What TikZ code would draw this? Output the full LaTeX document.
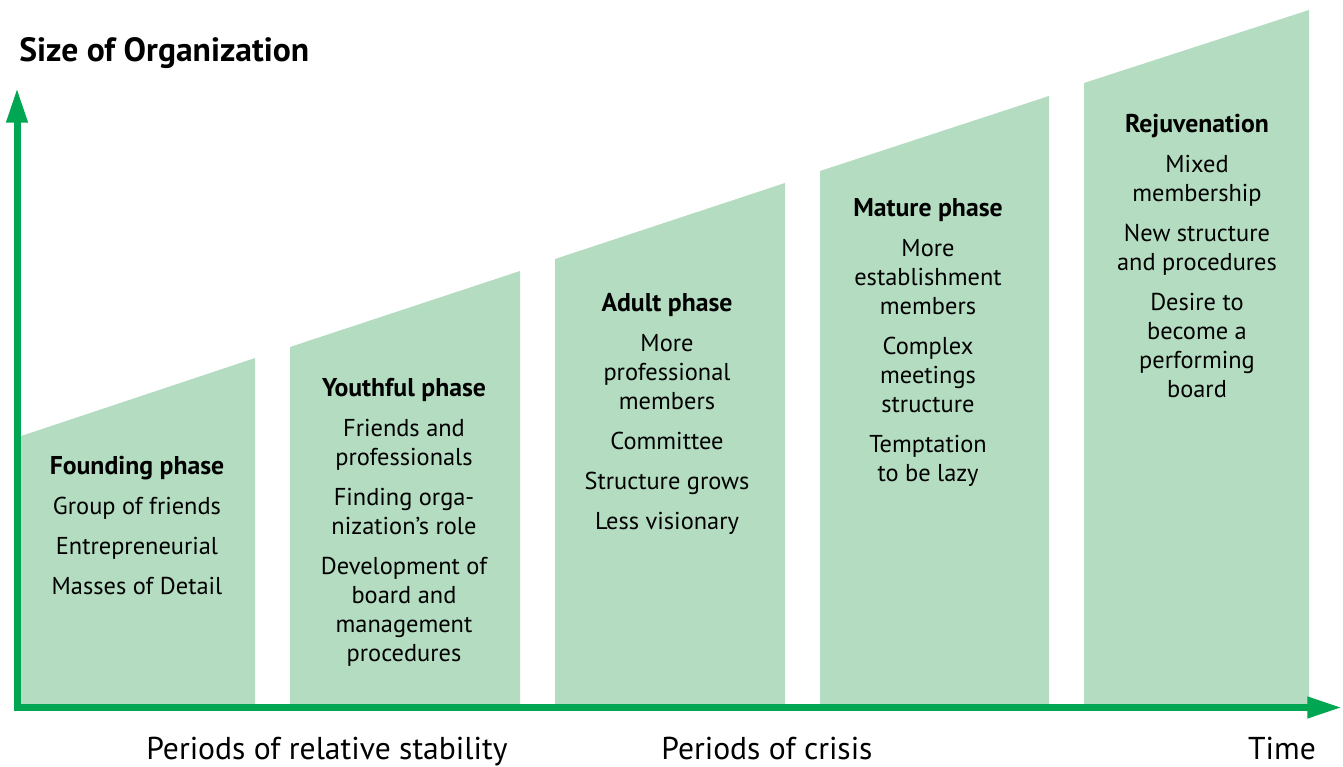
\documentclass[tikz,border=0pt]{standalone}
\usepackage{fontspec}
\setmainfont{PT Sans}
\usetikzlibrary{arrows.meta}

\definecolor{panelgreen}{HTML}{B3DCC1}
\definecolor{axisgreen}{HTML}{00A651}

\tikzset{
  phase/.style={fill=panelgreen, draw=none},
  phasetext/.style={align=center, anchor=north, inner sep=0pt,
    font=\fontsize{18.3}{21.75}\selectfont},
  axisline/.style={draw=axisgreen, line width=5.25pt,
    -{Triangle[length=26pt, width=15pt, fill=axisgreen]}},
  axislabel/.style={anchor=base, inner sep=0pt, font=\fontsize{23.7}{26}\selectfont}
}

\newcommand{\gap}{\\[8.25pt]}
\newcommand{\phasetitle}[1]{{\fontsize{19.3}{21.75}\selectfont\bfseries #1}}

\begin{document}
\begin{tikzpicture}[x=0.75pt, y=-0.75pt]
    \useasboundingbox (0,0) rectangle (1343,767);

    % phase panels: left x / right x / left top / right top
    \foreach \xa/\xb/\ya/\yb in {18/255/437/358, 290/520/347/271,
        555/785/259/183, 820/1049/171/96, 1084/1309/83/10}
        \fill[phase] (\xa,707) -- (\xa,\ya) -- (\xb,\yb) -- (\xb,707) -- cycle;

    % axes
    \coordinate (origin) at (17,707.5);
    \coordinate (ytip) at (17,88);
    \coordinate (xtip) at (1342,707.5);
    \coordinate (xstart) at (13.5,707.5);
    \draw[axisline] (xstart) -- (xtip);
    \draw[axisline] (17,711) -- (ytip);

    \node[anchor=base west, inner sep=0pt, font=\fontsize{25.2}{28}\selectfont\bfseries]
        (size) at (19,62) {Size of Organization};

    % phase texts
    \node[phasetext] (founding) at (137,456) {\phasetitle{Founding phase}\gap
        Group of friends\gap Entrepreneurial\gap Masses of Detail};
    \node[phasetext] (youthful) at (404,378) {\phasetitle{Youthful phase}\gap
        Friends and\\professionals\gap Finding orga-\\nization’s role\gap
        Development of\\board and\\management\\procedures};
    \node[phasetext] (adult) at (667,293) {\phasetitle{Adult phase}\gap
        More\\professional\\members\gap Committee\gap Structure grows\gap
        Less visionary};
    \node[phasetext] (mature) at (928,198) {\phasetitle{Mature phase}\gap
        More\\establishment\\members\gap Complex\\meetings\\structure\gap
        Temptation\\to be lazy};
    \node[phasetext] (rejuvenation) at (1197,114) {\phasetitle{Rejuvenation}\gap
        Mixed\\membership\gap New structure\\and procedures\gap
        Desire to\\become a\\performing\\board};

    % bottom labels
    \node[axislabel] (stability) at (327,759) {Periods of relative stability};
    \node[axislabel] (crisis) at (767,759) {Periods of crisis};
    \node[axislabel] (time) at (1282,759) {Time};
\end{tikzpicture}
\end{document}
